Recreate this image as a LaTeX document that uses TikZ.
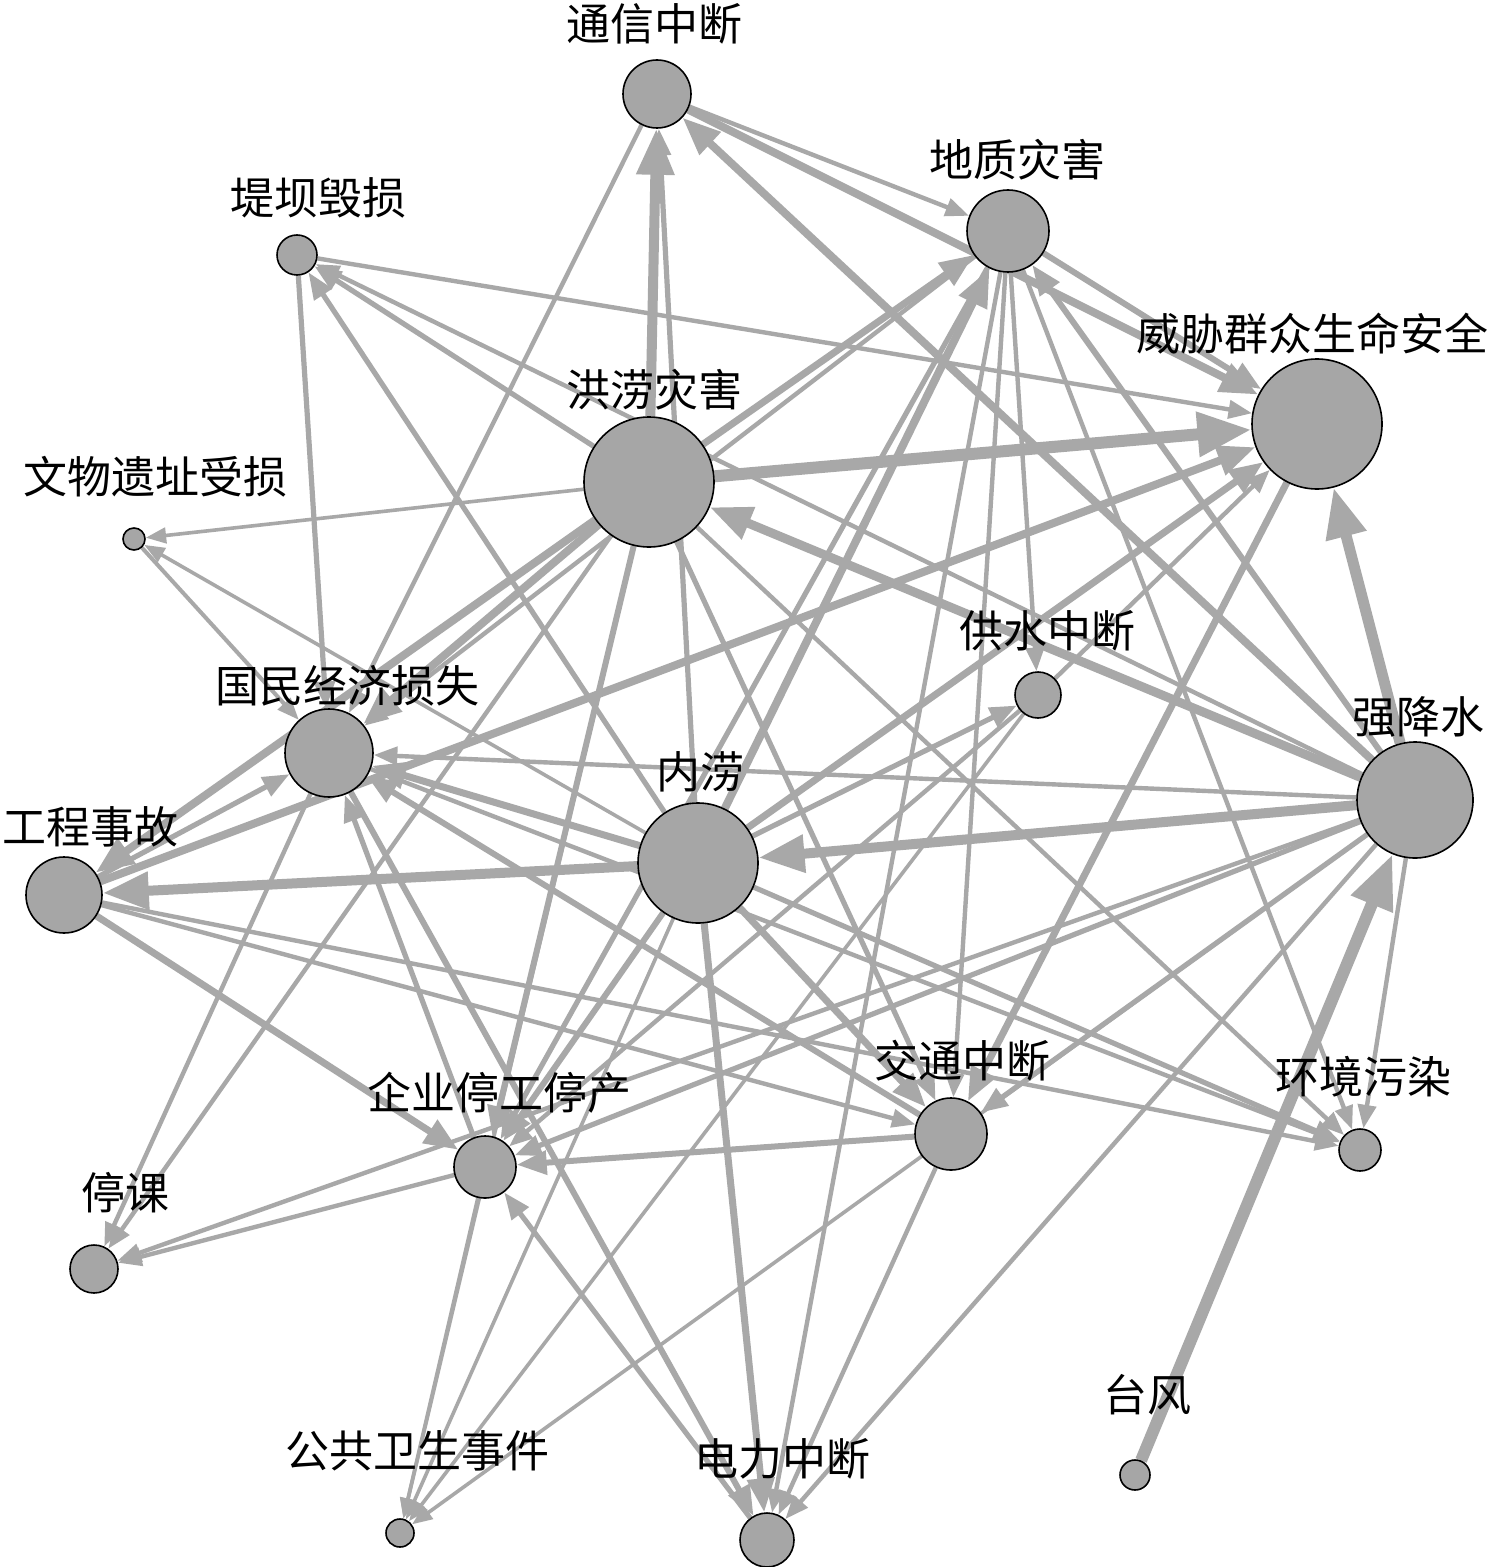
\documentclass[tikz,border=0pt]{standalone}
\usepackage{fontspec}
\newfontfamily\cjk{Noto Sans CJK SC}
\usetikzlibrary{arrows.meta}
\definecolor{egray}{HTML}{A8A8A8}
\definecolor{ngray}{HTML}{A6A6A6}
\pgfdeclarelayer{bglayer}
\pgfdeclarelayer{edgelayer}
\pgfsetlayers{bglayer,edgelayer,main}
\begin{document}
\begin{tikzpicture}[x=0.5pt,y=-0.5pt,
  nd/.style={circle, draw=black, line width=0.8pt, fill=ngray, inner sep=0pt, minimum size=#1pt},
  lab/.style={font=\cjk\fontsize{22pt}{26pt}\selectfont, inner sep=0pt, text=black},
  ed/.style={draw=egray, line width=#1, -{Triangle[length=3pt 4, width=2pt 3.2]}}]
\useasboundingbox (0,0) rectangle (1498,1567);
\begin{pgfonlayer}{bglayer}
\fill[white] (0,0) rectangle (1498,1567);
\end{pgfonlayer}
% nodes (minimum size in pt = radius in px)
\node[nd=34] (TX) at (657,94) {};
\node[nd=41] (DZ) at (1008,231) {};
\node[nd=20] (DB) at (297,255) {};
\node[nd=65] (WX) at (1317,424) {};
\node[nd=65] (HL) at (649,482) {};
\node[nd=11] (WW) at (134,539) {};
\node[nd=23] (GS) at (1038,695) {};
\node[nd=44] (GM) at (329,753) {};
\node[nd=58] (QJ) at (1415,800) {};
\node[nd=60] (NL) at (698,863) {};
\node[nd=38] (GC) at (64,895) {};
\node[nd=36] (JT) at (951,1134) {};
\node[nd=21] (HJ) at (1360,1150) {};
\node[nd=31] (QY) at (485,1167) {};
\node[nd=24] (TK) at (94,1269) {};
\node[nd=15] (TF) at (1135,1475) {};
\node[nd=14] (GG) at (400,1533) {};
\node[nd=27] (DL) at (767,1540) {};
% labels
\node[lab] (lTX) at (654,24) {通信中断};
\node[lab] (lDZ) at (1017,160) {地质灾害};
\node[lab] (lDB) at (318,198) {堤坝毁损};
\node[lab] (lWX) at (1312,334) {威胁群众生命安全};
\node[lab] (lHL) at (654,390) {洪涝灾害};
\node[lab] (lWW) at (155,477) {文物遗址受损};
\node[lab] (lGS) at (1047,631) {供水中断};
\node[lab] (lGM) at (347,686) {国民经济损失};
\node[lab] (lQJ) at (1418,717) {强降水};
\node[lab] (lNL) at (700,772) {内涝};
\node[lab] (lGC) at (91,827) {工程事故};
\node[lab] (lJT) at (962,1061) {交通中断};
\node[lab] (lHJ) at (1363,1077) {环境污染};
\node[lab] (lQY) at (499,1093) {企业停工停产};
\node[lab] (lTK) at (125,1193) {停课};
\node[lab] (lGG) at (417,1451) {公共卫生事件};
\node[lab] (lTF) at (1147,1395) {台风};
\node[lab] (lDL) at (782,1459) {电力中断};
% edges
\begin{pgfonlayer}{edgelayer}
\draw[ed=5pt] (HL) -- (TX);
\draw[ed=2.6pt] (NL) -- (TX);
\draw[ed=4pt] (QJ) -- (TX);
\draw[ed=4pt] (TX) -- (WX);
\draw[ed=2.2pt] (TX) -- (DZ);
\draw[ed=2.2pt] (TX) -- (GM);
\draw[ed=3pt] (DZ) -- (WX);
\draw[ed=3.5pt] (HL) -- (DZ);
\draw[ed=6pt] (HL) -- (WX);
\draw[ed=5.5pt] (QJ) -- (WX);
\draw[ed=4.5pt] (QJ) -- (HL);
\draw[ed=5pt] (QJ) -- (NL);
\draw[ed=6pt] (TF) -- (QJ);
\draw[ed=3pt] (QJ) -- (DZ);
\draw[ed=2.2pt] (DB) -- (WX);
\draw[ed=2.6pt] (HL) -- (DB);
\draw[ed=2.2pt] (QJ) -- (DB);
\draw[ed=2.6pt] (NL) -- (DB);
\draw[ed=2.6pt] (DB) -- (GM);
\draw[ed=2pt] (WW) -- (GM);
\draw[ed=1.8pt] (NL) -- (WW);
\draw[ed=1.8pt] (HL) -- (WW);
\draw[ed=4pt] (HL) -- (GM);
\draw[ed=4pt] (HL) -- (GC);
\draw[ed=5pt] (NL) -- (GC);
\draw[ed=4pt] (GC) -- (WX);
\draw[ed=2.6pt] (GC) -- (GM);
\draw[ed=3.5pt] (GC) -- (QY);
\draw[ed=2.2pt] (GC) -- (JT);
\draw[ed=2.2pt] (GC) -- (HJ);
\draw[ed=2.2pt] (QJ) -- (GM);
\draw[ed=3.5pt] (NL) -- (GM);
\draw[ed=2.6pt] (QY) -- (GM);
\draw[ed=3pt] (JT) -- (GM);
\draw[ed=3pt] (NL) -- (QY);
\draw[ed=3pt] (HL) -- (QY);
\draw[ed=2.6pt] (QJ) -- (QY);
\draw[ed=3pt] (JT) -- (QY);
\draw[ed=2.6pt] (DZ) -- (QY);
\draw[ed=4pt] (NL) -- (DZ);
\draw[ed=2.2pt] (QY) -- (TK);
\draw[ed=2.2pt] (GM) -- (TK);
\draw[ed=2.2pt] (HL) -- (TK);
\draw[ed=2.2pt] (QJ) -- (TK);
\draw[ed=1.8pt] (QY) -- (GG);
\draw[ed=1.8pt] (NL) -- (GG);
\draw[ed=1.8pt] (GS) -- (GG);
\draw[ed=1.8pt] (QJ) -- (GG);
\draw[ed=1.8pt] (HL) -- (GG);
\draw[ed=3.5pt] (NL) -- (DL);
\draw[ed=3pt] (GM) -- (DL);
\draw[ed=2.2pt] (JT) -- (DL);
\draw[ed=2.2pt] (QJ) -- (DL);
\draw[ed=2.2pt] (DZ) -- (DL);
\draw[ed=2.6pt] (DL) -- (QY);
\draw[ed=3.5pt] (NL) -- (JT);
\draw[ed=2.6pt] (HL) -- (JT);
\draw[ed=2.2pt] (DZ) -- (JT);
\draw[ed=2.6pt] (QJ) -- (JT);
\draw[ed=3.5pt] (WX) -- (JT);
\draw[ed=2.6pt] (NL) -- (HJ);
\draw[ed=2.2pt] (GM) -- (HJ);
\draw[ed=2.2pt] (HL) -- (HJ);
\draw[ed=2.2pt] (QJ) -- (HJ);
\draw[ed=2.2pt] (DZ) -- (HJ);
\draw[ed=2.2pt] (DZ) -- (GS);
\draw[ed=2.6pt] (NL) -- (GS);
\draw[ed=2.2pt] (GS) -- (WX);
\draw[ed=3.5pt] (NL) -- (WX);
\draw[ed=2.2pt] (DZ) -- (GM);
\draw[ed=2.2pt] (GS) -- (QY);
\end{pgfonlayer}
\end{tikzpicture}
\end{document}
